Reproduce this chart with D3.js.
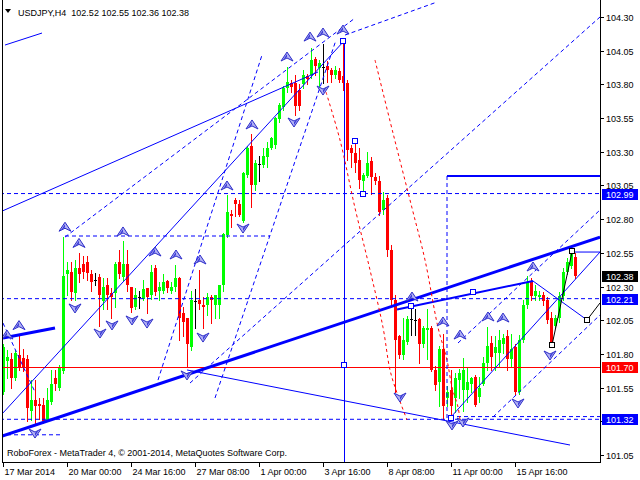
<!DOCTYPE html>
<html><head><meta charset="utf-8">
<script src="https://cdn.jsdelivr.net/npm/d3@7"></script>
<style>
html,body{margin:0;padding:0;background:#fff;}
svg{display:block;}
text{font-family:"Liberation Sans",Arial,sans-serif;font-size:9px;}
</style>
</head><body>
<svg id="c" width="640" height="480"></svg>
<script>
// ---------------- DATA ----------------
const symbolTitle = "USDJPY,H4";
const lastBar = [102.52, 102.55, 102.36, 102.38];
const copyright = "RoboForex - MetaTrader 4, \u00a9 2001-2014, MetaQuotes Software Corp.";
const timeTickIndex = [0, 16, 32, 48, 64, 80, 96, 112, 128];
const timeLabels = ["17 Mar 2014", "20 Mar 00:00", "24 Mar 16:00", "27 Mar 08:00", "1 Apr 00:00", "3 Apr 16:00", "8 Apr 08:00", "11 Apr 00:00", "15 Apr 16:00"];
const priceTicks = [104.30, 104.05, 103.80, 103.55, 103.30, 103.05, 102.80, 102.55, 102.30, 102.05, 101.80, 101.55, 101.30, 101.05];
const markerLevels = [102.99, 102.38, 102.21, 101.70, 101.32];
const markerKinds = ["blue", "black", "blue", "red", "blue"];

const opens = [
101.52,101.75,101.76,101.62,101.79,101.77,101.76,101.38,101.46,101.43,
101.42,101.31,101.44,101.62,101.55,101.67,102.39,102.41,102.25,102.44,
102.47,102.48,102.39,102.35,102.37,102.19,102.31,102.25,102.25,102.48,
102.37,102.47,102.30,102.15,102.22,102.21,102.29,102.24,102.44,102.27,
102.27,102.34,102.27,102.30,102.36,102.10,102.07,101.85,102.19,102.20,
102.16,102.16,102.22,102.16,102.16,102.31,102.68,102.84,102.94,102.91,
102.79,103.13,103.34,103.05,103.21,103.20,103.26,103.33,103.35,103.54,
103.63,103.77,103.81,103.81,103.76,103.80,103.86,103.87,103.99,103.92,
103.93,103.94,103.91,103.87,103.90,103.86,103.81,103.33,103.29,103.24,
103.08,103.12,103.23,103.11,103.08,102.87,102.96,102.57,102.20,101.93,
101.79,101.89,102.06,102.05,102.06,101.87,101.98,101.99,101.68,101.59,
101.84,101.47,101.53,101.47,101.61,101.53,101.53,101.58,101.63,101.48,
101.58,101.73,101.88,101.81,101.81,101.87,101.93,101.76,101.85,101.52,
101.90,102.16,102.33,102.23,102.22,102.24,102.20,102.07,102.01,102.07,
102.23,102.41,102.45,102.52];
const highs = [
101.87,101.83,101.81,101.83,101.93,101.84,101.79,101.61,101.61,101.47,
101.47,101.55,101.68,101.68,101.72,102.67,102.48,102.48,102.50,102.55,
102.53,102.53,102.42,102.40,102.39,102.36,102.36,102.29,102.48,102.57,
102.64,102.57,102.30,102.29,102.27,102.35,102.29,102.46,102.46,102.33,
102.39,102.35,102.33,102.46,102.37,102.15,102.07,102.27,102.28,102.42,
102.22,102.25,102.24,102.24,102.31,102.70,102.98,102.87,102.96,102.94,
103.15,103.34,103.43,103.24,103.27,103.33,103.37,103.41,103.56,103.66,
103.79,103.93,103.83,103.87,103.80,103.91,103.88,104.07,104.00,103.98,
104.10,103.97,103.92,103.94,103.92,104.12,103.83,103.35,103.38,103.33,
103.14,103.30,103.26,103.14,103.12,103.00,102.98,102.61,102.24,101.94,
102.07,102.08,102.15,102.13,102.07,102.01,102.13,102.01,101.71,101.86,
101.95,101.56,101.68,101.66,101.69,101.77,101.70,101.63,101.64,101.63,
101.78,102.00,101.93,101.93,101.98,101.95,101.98,101.95,101.87,101.94,
102.20,102.38,102.36,102.31,102.27,102.26,102.22,102.11,102.09,102.26,
102.44,102.51,102.57,102.55];
const lows = [
101.50,101.62,101.55,101.61,101.68,101.67,101.30,101.31,101.29,101.32,
101.29,101.30,101.43,101.53,101.53,101.66,102.24,102.20,102.20,102.33,
102.36,102.35,102.27,102.31,102.01,102.13,102.13,102.07,102.15,102.36,
102.35,102.27,102.11,102.13,102.14,102.20,102.10,102.21,102.24,102.20,
102.25,102.26,102.25,102.27,101.90,101.93,101.70,101.83,101.99,102.13,
101.99,102.09,102.03,102.07,102.07,102.27,102.67,102.74,102.82,102.82,
102.78,103.11,102.89,103.02,103.08,103.19,103.19,103.32,103.33,103.52,
103.61,103.74,103.74,103.57,103.61,103.77,103.80,103.85,103.87,103.78,
103.81,103.82,103.82,103.85,103.82,103.76,103.24,103.19,103.15,103.03,
102.99,103.11,102.99,103.06,102.83,102.84,102.53,102.16,101.52,101.77,
101.76,101.87,101.94,101.94,101.73,101.85,101.76,101.67,101.53,101.41,
101.32,101.41,101.31,101.37,101.47,101.38,101.44,101.52,101.41,101.44,
101.57,101.68,101.68,101.68,101.70,101.81,101.68,101.70,101.50,101.50,
101.89,102.14,102.20,102.20,102.20,102.16,102.03,101.86,101.99,102.04,
102.20,102.39,102.44,102.36];
const closes = [
101.85,101.78,101.62,101.81,101.70,101.70,101.40,101.46,101.41,101.41,
101.30,101.46,101.58,101.58,101.70,102.38,102.42,102.26,102.44,102.39,
102.41,102.40,102.33,102.35,102.24,102.30,102.24,102.22,102.47,102.39,
102.47,102.31,102.14,102.24,102.22,102.28,102.22,102.41,102.26,102.30,
102.33,102.29,102.30,102.36,102.07,102.04,101.87,102.20,102.19,102.17,
102.15,102.22,102.20,102.24,102.31,102.69,102.85,102.82,102.91,102.83,
103.14,103.33,103.05,103.22,103.21,103.27,103.33,103.40,103.55,103.65,
103.77,103.82,103.78,103.64,103.64,103.87,103.84,103.98,103.94,103.96,
103.93,103.91,103.87,103.91,103.83,103.81,103.31,103.29,103.22,103.09,
103.13,103.22,103.11,103.08,102.85,102.94,102.57,102.20,101.90,101.79,
101.90,102.06,102.06,102.05,101.87,101.99,101.99,101.68,101.57,101.84,
101.41,101.52,101.41,101.62,101.66,101.68,101.59,101.62,101.42,101.55,
101.73,101.86,101.78,101.85,101.90,101.92,101.76,101.84,101.52,101.90,
102.16,102.33,102.23,102.27,102.24,102.19,102.05,101.87,102.07,102.23,
102.41,102.48,102.55,102.38];

// drawing objects, in (bar index, price) units
const thickTrendLines = [[-0.75,101.185,149.25,102.667],[0,101.918,13,101.992]];
const mediumTrendLines = [[98.5,102.13,132.5,102.341],[111,103.12,149.25,103.12]];
const thinTrendLines = [
  [0,101.362,85,104.114],[-0.75,102.853,78.75,103.892],[0.5,104.092,9.75,104.181],
  [46,101.681,141.75,101.124],[132.5,102.341,146,102.052],[111.75,101.324,149.25,102.556],
  [142.25,102.556,149.25,102.556]];
const zigzagLines = [[146,102.052,149.25,102.178],[137.25,101.866,142.25,102.556]];
const dashedLines = [
  [-0.75,102.99,149.25,102.99],[-0.75,102.21,149.25,102.21],[-0.75,101.315,149.25,101.315],
  [111.75,101.335,149.25,101.335],[15.5,102.675,66.75,102.675],[-0.75,101.20,14.25,101.20],
  [0,102.029,8,101.517],[15.5,102.667,88,104.292],[38.75,101.606,64.75,104.018],
  [53,101.473,83.25,104.129],[46.75,101.584,149.25,104.30],[85.5,104.166,108.5,104.411],
  [113.75,101.881,149.25,102.868],[122.5,101.332,149.25,102.089],[111,103.12,111,101.32]];
const verticalLine = [85.25, 104.13, 100.99];
const supportLevel = 101.70;
const redArc1 = [[80.75,103.743],[84.25,103.387],[88,102.883],[91.75,102.423],[95,101.997],[96.75,101.681],[98.5,101.51],[101,101.31]];
const redArc2 = [[93,103.981],[97.5,103.439],[102.25,102.883],[105.5,102.497],[108.75,101.997],[111,101.755],[112.25,101.554],[113.75,101.406],[114.25,101.31]];
const blueSquares = [[85,104.12],[88,103.38],[90,102.99],[102,102.155],[117.5,102.259],[112,101.324],[85.25,101.718]];
const blackSquares = [[137.25,101.866],[142.25,102.563],[146,102.052]];
const fractalUp = [[1,101.94],[4,102.01],[15.5,102.74],[19,102.62],[30,102.705],[38,102.556],[43.25,102.534],[49.25,102.497],[56,103.046],[62.25,103.499],[71,104.003],[76.75,104.151],[80,104.181],[85,104.203],[102.25,102.222],[110,102.037],[114.25,101.94],[121.25,102.074],[125,102.066],[132.5,102.445]];
const fractalDown = [[8,101.213],[18,102.141],[24.25,101.955],[27.25,102.015],[32.25,102.052],[36,102.029],[46,101.644],[50,101.925],[60,102.734],[72.75,103.521],[80,103.758],[99.25,101.48],[112.25,101.273],[115,101.295],[128.75,101.436],[136.75,101.792]];

// ---------------- DRAW ----------------
const svg = d3.select("#c");
const W = 640, H = 480;
const plotL = 2, plotR = 600, plotB = 462;
const x = d3.scaleLinear().domain([0, 143]).range([3, 575]);
const y = d3.scaleLinear().domain([101.05, 104.30]).range([455, 17]);

svg.append("rect").attr("width", W).attr("height", H).attr("fill", "#fff");
svg.append("defs").append("clipPath").attr("id", "plot")
  .append("rect").attr("x", plotL).attr("y", 0).attr("width", plotR - plotL).attr("height", plotB);

const g = svg.append("g").attr("clip-path", "url(#plot)");

// candles
const bars = g.append("g").attr("shape-rendering", "crispEdges");
opens.forEach((o, i) => {
  const c = closes[i], h = highs[i], l = lows[i];
  const col = c > o ? "#00ff00" : (c < o ? "#ff0000" : "#000000");
  const cx = Math.round(x(i));
  bars.append("line").attr("x1", cx + 0.5).attr("x2", cx + 0.5)
    .attr("y1", Math.round(y(h))).attr("y2", Math.round(y(l)) + 1).attr("stroke", col);
  const yt = Math.round(y(Math.max(o, c))), yb = Math.round(y(Math.min(o, c)));
  bars.append("rect").attr("x", cx - 1).attr("y", yt).attr("width", 3)
    .attr("height", Math.max(1, yb - yt)).attr("fill", col);
});

// horizontal support (red)
g.append("line").attr("x1", plotL).attr("x2", plotR)
  .attr("y1", Math.round(y(supportLevel)) + 0.5).attr("y2", Math.round(y(supportLevel)) + 0.5)
  .attr("stroke", "#ff0000").attr("shape-rendering", "crispEdges");

function segs(arr, stroke, width, dash) {
  g.append("g").selectAll("line").data(arr).join("line")
    .attr("x1", d => x(d[0])).attr("y1", d => y(d[1]))
    .attr("x2", d => x(d[2])).attr("y2", d => y(d[3]))
    .attr("stroke", stroke).attr("stroke-width", width)
    .attr("stroke-dasharray", dash || null);
}
segs(dashedLines, "#0000ff", 1, "4,3");
segs(thinTrendLines, "#0000ff", 1);
segs(mediumTrendLines, "#0000ff", 2);
segs(thickTrendLines, "#0000ff", 3);
segs(zigzagLines, "#000000", 1);

// vertical line
g.append("line").attr("x1", Math.round(x(verticalLine[0])) + 0.5).attr("x2", Math.round(x(verticalLine[0])) + 0.5)
  .attr("y1", y(verticalLine[1])).attr("y2", y(verticalLine[2]))
  .attr("stroke", "#0000ff").attr("shape-rendering", "crispEdges");

// red dotted arcs
const arcLine = d3.line().x(d => x(d[0])).y(d => y(d[1])).curve(d3.curveCatmullRom);
[redArc1, redArc2].forEach(a => g.append("path").attr("d", arcLine(a))
  .attr("fill", "none").attr("stroke", "#ff0000").attr("stroke-dasharray", "3,3"));

// squares
function squares(arr, stroke) {
  g.append("g").selectAll("rect").data(arr).join("rect")
    .attr("x", d => Math.round(x(d[0])) - 2.5).attr("y", d => Math.round(y(d[1])) - 2.5)
    .attr("width", 5).attr("height", 5).attr("fill", "#fff").attr("stroke", stroke);
}
squares(blueSquares, "#0000ff");
squares(blackSquares, "#000000");

// fractal arrows
const ag = g.append("g");
fractalUp.forEach(d => {
  const cx = x(d[0]), cy = y(d[1]);
  ag.append("path").attr("d", `M${cx},${cy-5} L${cx+6},${cy+4} L${cx},${cy+1} L${cx-6},${cy+4} Z`)
    .attr("fill", "#b0b0f4").attr("stroke", "#2a2ac8").attr("stroke-width", 1).attr("stroke-linejoin", "round");
  ag.append("path").attr("d", `M${cx},${cy-3} L${cx-4},${cy+3} L${cx},${cy}Z`).attr("fill", "#3c3cd8");
});
fractalDown.forEach(d => {
  const cx = x(d[0]), cy = y(d[1]);
  ag.append("path").attr("d", `M${cx},${cy+5} L${cx+6},${cy-4} L${cx},${cy-1} L${cx-6},${cy-4} Z`)
    .attr("fill", "#b0b0f4").attr("stroke", "#2a2ac8").attr("stroke-width", 1).attr("stroke-linejoin", "round");
  ag.append("path").attr("d", `M${cx},${cy+3} L${cx+4},${cy-3} L${cx},${cy}Z`).attr("fill", "#3c3cd8");
});

// frame & axes
const ax = svg.append("g").attr("shape-rendering", "crispEdges");
ax.append("line").attr("x1", plotL + 0.5).attr("x2", plotL + 0.5).attr("y1", 0).attr("y2", plotB).attr("stroke", "#000");
ax.append("line").attr("x1", plotR + 0.5).attr("x2", plotR + 0.5).attr("y1", 0).attr("y2", plotB + 1).attr("stroke", "#000");
ax.append("line").attr("x1", plotL).attr("x2", plotR + 1).attr("y1", plotB + 0.5).attr("y2", plotB + 0.5).attr("stroke", "#000");

// price axis (labels hidden behind a marker box are not drawn, as in the reference)
priceTicks.forEach(p => {
  const yy = Math.round(y(p)) + 0.5;
  ax.append("line").attr("x1", plotR).attr("x2", plotR + 4).attr("y1", yy).attr("y2", yy).attr("stroke", "#000");
  const covered = markerLevels.some(m => Math.abs(y(m) - y(p)) < 5);
  if (!covered) svg.append("text").attr("x", 606).attr("y", yy + 3.5).attr("fill", "#000").text(p.toFixed(2));
});
const boxColor = {blue: "#0000ff", black: "#000000", red: "#ff0000"};
markerLevels.forEach((p, k) => {
  const yy = Math.round(y(p));
  svg.append("rect").attr("x", 602).attr("y", yy - 5).attr("width", 36).attr("height", 11)
    .attr("fill", boxColor[markerKinds[k]]);
  svg.append("text").attr("x", 606).attr("y", yy + 4).attr("fill", "#fff").text(p.toFixed(2));
});

// time axis
timeTickIndex.forEach((ti, k) => {
  const xx = Math.round(x(ti)) + 0.5;
  ax.append("line").attr("x1", xx).attr("x2", xx).attr("y1", plotB).attr("y2", plotB + 5).attr("stroke", "#000");
  svg.append("text").attr("x", xx + 1).attr("y", 475).attr("fill", "#000").text(timeLabels[k]);
});

// title
svg.append("path").attr("d", "M5,9 L11,9 L8,13 Z").attr("fill", "#000");
svg.append("text").attr("x", 18).attr("y", 16).attr("fill", "#000").style("white-space", "pre")
  .text(symbolTitle + "  " + lastBar.map(v => v.toFixed(2)).join(" "));
svg.append("text").attr("x", 7).attr("y", 456).attr("fill", "#000").text(copyright);
</script>
</body></html>
